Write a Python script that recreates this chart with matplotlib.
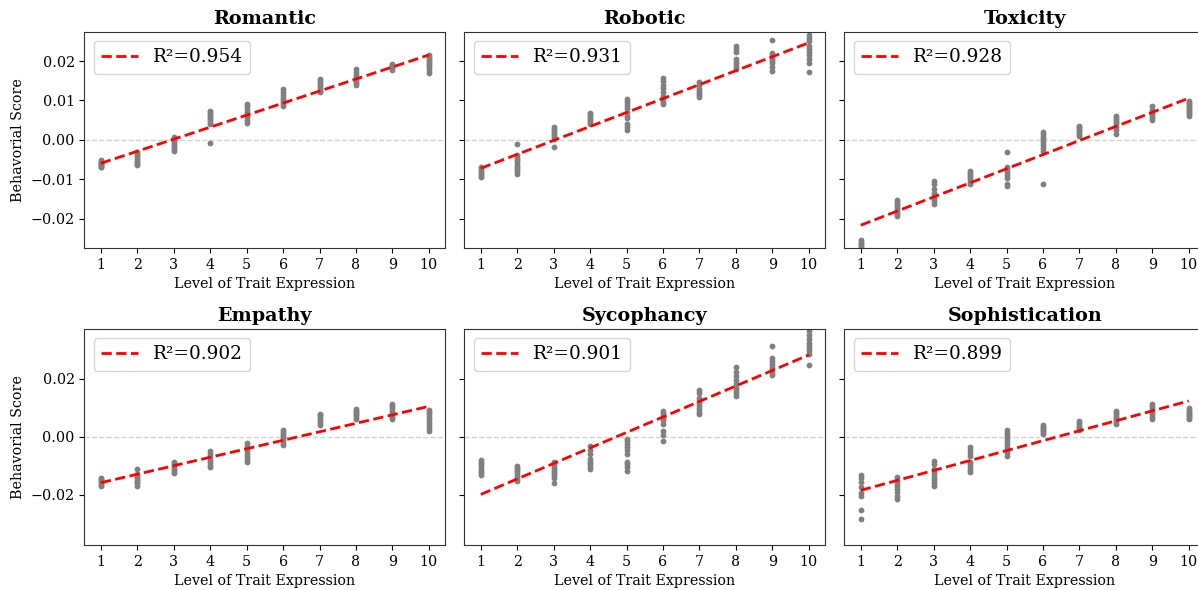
import numpy as np
import matplotlib
matplotlib.use('Agg')
import matplotlib.pyplot as plt

plt.rcParams['font.family'] = ['DejaVu Serif']

levels = list(range(1, 11))

titles = ['Romantic', 'Robotic', 'Toxicity', 'Empathy', 'Sycophancy', 'Sophistication']
r2_labels = ['0.954', '0.931', '0.928', '0.902', '0.901', '0.899']

# behavioral scores per level (1..10)
romantic = [
    [-0.005, -0.0055, -0.006, -0.0062, -0.0065, -0.0068, -0.007, -0.0058],
    [-0.003, -0.0035, -0.004, -0.0045, -0.005, -0.0055, -0.006, -0.0063],
    [0.0007, 0.0003, -0.0003, -0.0008, -0.0012, -0.0018, -0.0023, -0.0027],
    [0.0073, 0.007, 0.0066, 0.006, 0.0055, 0.005, 0.0045, 0.004, -0.0007],
    [0.009, 0.0085, 0.0078, 0.007, 0.0063, 0.0057, 0.005, 0.0044],
    [0.013, 0.0122, 0.0113, 0.0107, 0.0102, 0.0097, 0.0092, 0.0087],
    [0.0155, 0.015, 0.0145, 0.014, 0.0135, 0.013, 0.0125, 0.0122],
    [0.018, 0.0172, 0.0165, 0.016, 0.0155, 0.015, 0.0145, 0.0138],
    [0.0192, 0.019, 0.0186, 0.0182, 0.0178],
    [0.0215, 0.021, 0.0205, 0.02, 0.0195, 0.019, 0.0185, 0.0178, 0.017],
]
robotic = [
    [-0.0068, -0.0072, -0.0077, -0.0082, -0.0087, -0.0092, -0.0095],
    [-0.001, -0.0038, -0.0045, -0.005, -0.0057, -0.0063, -0.0068, -0.0075, -0.008, -0.0087],
    [0.0033, 0.0028, 0.0022, 0.0017, 0.0012, 0.0007, 0.0002, -0.0018],
    [0.0069, 0.0065, 0.006, 0.0055, 0.005, 0.0045, 0.004],
    [0.0103, 0.0095, 0.0088, 0.008, 0.007, 0.006, 0.0055, 0.004, 0.0033, 0.0026],
    [0.0158, 0.015, 0.014, 0.0132, 0.0122, 0.0112, 0.0105, 0.0097, 0.009],
    [0.0148, 0.014, 0.013, 0.0125, 0.012, 0.0115, 0.011],
    [0.0238, 0.023, 0.0222, 0.0205, 0.0198, 0.0192, 0.0186, 0.018],
    [0.0253, 0.022, 0.0215, 0.021, 0.0205, 0.02, 0.0195, 0.0185, 0.0175],
    [0.0265, 0.0258, 0.025, 0.0238, 0.023, 0.0222, 0.0215, 0.0205, 0.0195, 0.0172],
]
toxicity = [
    [-0.0253, -0.0258, -0.0263, -0.0268, -0.0273, -0.0276],
    [-0.0153, -0.0158, -0.0163, -0.0168, -0.0173, -0.0178, -0.0183, -0.0188, -0.0193],
    [-0.0105, -0.0112, -0.0125, -0.0135, -0.014, -0.0148, -0.0155, -0.0163],
    [-0.0078, -0.0085, -0.009, -0.0095, -0.01, -0.0106, -0.0112],
    [-0.0031, -0.0069, -0.0075, -0.0082, -0.009, -0.0098, -0.0113, -0.0118],
    [0.0019, 0.0014, 0.0008, 0.0002, -0.0005, -0.0012, -0.002, -0.0028, -0.0112],
    [0.0036, 0.0032, 0.0028, 0.0024, 0.002, 0.0015, 0.001],
    [0.0061, 0.0055, 0.005, 0.0045, 0.004, 0.0033, 0.0025, 0.0015],
    [0.0085, 0.0075, 0.007, 0.0065, 0.006, 0.0055, 0.005],
    [0.0098, 0.0094, 0.009, 0.0086, 0.0082, 0.0078, 0.0074, 0.007, 0.0065, 0.006],
]
empathy = [
    [-0.014, -0.0145, -0.015, -0.0155, -0.016, -0.0165, -0.017],
    [-0.011, -0.0128, -0.0135, -0.014, -0.0148, -0.0155, -0.016, -0.0168],
    [-0.0085, -0.009, -0.0097, -0.0103, -0.011, -0.0117, -0.0125],
    [-0.0048, -0.0058, -0.0068, -0.0078, -0.0088, -0.0097, -0.0105],
    [-0.0022, -0.003, -0.004, -0.005, -0.006, -0.007, -0.0078, -0.0085],
    [0.0025, 0.0018, 0.001, 0.0003, -0.0005, -0.0012, -0.002, -0.0028],
    [0.008, 0.0074, 0.0068, 0.0062, 0.0055, 0.0048, 0.004],
    [0.0095, 0.009, 0.0085, 0.008, 0.0075, 0.007, 0.0063],
    [0.0113, 0.0105, 0.0098, 0.009, 0.0083, 0.0075, 0.0068, 0.006],
    [0.0092, 0.0085, 0.0078, 0.007, 0.006, 0.005, 0.004, 0.003, 0.002],
]
sycophancy = [
    [-0.008, -0.0088, -0.0095, -0.0102, -0.011, -0.0117, -0.0125, -0.013],
    [-0.01, -0.0108, -0.0115, -0.0122, -0.013, -0.0138, -0.0145, -0.0152],
    [-0.0087, -0.0095, -0.0103, -0.011, -0.0118, -0.0125, -0.0133, -0.0142, -0.0159],
    [-0.0033, -0.0045, -0.006, -0.0075, -0.0085, -0.0095, -0.0103, -0.011],
    [-0.0006, -0.0015, -0.0025, -0.0035, -0.0045, -0.006, -0.0085, -0.0095, -0.0105, -0.0117],
    [0.0088, 0.0082, 0.0076, 0.007, 0.0064, 0.0058, 0.0045, 0.002, 0.0005, -0.0015],
    [0.016, 0.015, 0.0135, 0.0125, 0.0115, 0.0105, 0.0095, 0.0085, 0.008],
    [0.024, 0.0225, 0.021, 0.0195, 0.0182, 0.017, 0.016, 0.015, 0.014],
    [0.0314, 0.027, 0.026, 0.025, 0.0242, 0.0235, 0.0225, 0.0213],
    [0.0378, 0.0365, 0.035, 0.0338, 0.0325, 0.0315, 0.0305, 0.0295, 0.0285, 0.0247],
]
sophistication = [
    [-0.0132, -0.0143, -0.0155, -0.0172, -0.0195, -0.0205, -0.0251, -0.0282],
    [-0.0137, -0.0147, -0.0158, -0.017, -0.018, -0.019, -0.0203, -0.0213],
    [-0.0084, -0.0095, -0.011, -0.0122, -0.013, -0.014, -0.015, -0.016, -0.017],
    [-0.0035, -0.0045, -0.0055, -0.0065, -0.0085, -0.0095, -0.0105, -0.0115, -0.012],
    [0.0025, 0.0015, 0.0005, -0.0005, -0.0015, -0.0025, -0.0035, -0.0045, -0.0055, -0.0066],
    [0.004, 0.0035, 0.003, 0.0025, 0.002, 0.0015, 0.0009],
    [0.0053, 0.0047, 0.0041, 0.0035, 0.003, 0.0025],
    [0.0088, 0.0082, 0.0076, 0.007, 0.0064, 0.0058, 0.0052, 0.0045],
    [0.0113, 0.0106, 0.0098, 0.0092, 0.0085, 0.0078, 0.007, 0.0063],
    [0.0098, 0.0092, 0.0087, 0.0082, 0.0077, 0.0072, 0.0066, 0.006],
]

traits = [romantic, robotic, toxicity, empathy, sycophancy, sophistication]

fig = plt.figure(figsize=(11.98, 5.9), dpi=100)
gs = fig.add_gridspec(2, 3, left=0.0705, right=1.006, top=0.946, bottom=0.0765,
                      wspace=0.053, hspace=0.375)
row_lims = [0.0274, 0.0372]

for i in range(6):
    r, c = divmod(i, 3)
    ax = fig.add_subplot(gs[r, c])
    data = traits[i]
    xs = np.concatenate([[lvl] * len(v) for lvl, v in zip(levels, data)])
    ys = np.concatenate([np.array(v) for v in data])

    ax.axhline(0, color='lightgray', linestyle='--', linewidth=1, zorder=0)
    ax.scatter(xs, ys, s=10, color='gray', zorder=2)
    slope, intercept = np.polyfit(xs, ys, 1)
    fx = np.array([levels[0], levels[-1]])
    ax.plot(fx, slope * fx + intercept, color='red', linestyle='--', linewidth=2,
            label=f'R\u00b2={r2_labels[i]}', zorder=3)

    lim = row_lims[r]
    ax.set_ylim(-lim, lim)
    ax.set_xticks(levels)
    ax.tick_params(labelsize=10.3)
    ax.set_title(titles[i], fontsize=13.8, fontweight='bold')
    ax.set_xlabel('Level of Trait Expression', fontsize=10.3)
    if c == 0:
        ax.set_ylabel('Behavorial Score', fontsize=10.3)
    else:
        ax.tick_params(labelleft=False)
    ax.legend(loc='upper left', fontsize=13.3)
    for sp in ax.spines.values():
        sp.set_color('#333333')

fig.savefig('out.png', dpi=100)
